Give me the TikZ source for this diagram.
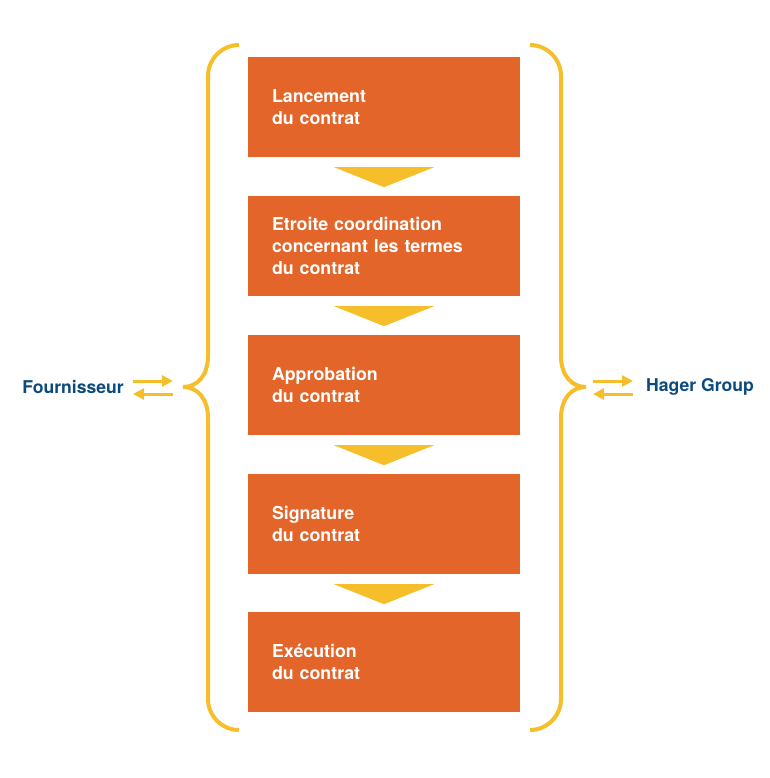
\documentclass[tikz,border=0pt]{standalone}
\usepackage{fontspec}
\setmainfont{TeX Gyre Heros}
\usetikzlibrary{arrows.meta,calc}
\definecolor{hagerorange}{HTML}{E3652A}
\definecolor{hageryellow}{HTML}{F6BE2A}
\definecolor{hagerblue}{HTML}{0B4A7F}
\tikzset{
  stepbox/.style={fill=hagerorange,text=white,minimum height=100pt,inner xsep=24pt,inner ysep=0pt,
    text width=224pt,align=left,font=\fontsize{17.8}{22}\selectfont\bfseries},
  party/.style={text=hagerblue,inner sep=0pt,font=\fontsize{17.6}{20}\selectfont\bfseries},
  brace/.style={draw=hageryellow,line width=4pt},
  swap/.style={draw=hageryellow,line width=3pt,-{Triangle[length=11pt,width=11pt]}}
}
\begin{document}
\begin{tikzpicture}[x=1pt,y=-1pt]
\useasboundingbox (0,0) rectangle (769,778);
% the five steps
\node[stepbox] (s1) at (384,107) {Lancement\\du contrat};
\node[stepbox] (s2) at (384,246) {Etroite coordination\\concernant les termes\\du contrat};
\node[stepbox] (s3) at (384,385) {Approbation\\du contrat};
\node[stepbox] (s4) at (384,524) {Signature\\du contrat};
\node[stepbox] (s5) at (384,662) {Exécution\\du contrat};
\foreach \i in {1,2,3,4}
  \fill[hageryellow] ($(s\i.south)+(-50,10)$) -- ($(s\i.south)+(50,10)$) -- ($(s\i.south)+(0,30)$) -- cycle;

% braces
\draw[brace] (239,45) .. controls (222,45) and (208,59) .. (208,76) -- (208,356)
  .. controls (208,376) and (197,387) .. (183,387)
  .. controls (197,387) and (208,398) .. (208,418) -- (208,699)
  .. controls (208,716) and (222,730) .. (239,730);
\begin{scope}[xshift=769pt,xscale=-1]
\draw[brace] (239,45) .. controls (222,45) and (208,59) .. (208,76) -- (208,356)
  .. controls (208,376) and (197,387) .. (183,387)
  .. controls (197,387) and (208,398) .. (208,418) -- (208,699)
  .. controls (208,716) and (222,730) .. (239,730);
\end{scope}

% the two parties
\node[party,anchor=east] (four) at (124,387) {Fournisseur};
\node[party,anchor=west] (hager) at (646,387) {Hager Group};
\coordinate (fa) at (133,381);
\coordinate (fb) at (173,381);
\coordinate (fc) at (173,394);
\coordinate (fd) at (133,394);
\draw[swap] (fa) -- (fb);
\draw[swap] (fc) -- (fd);
\coordinate (ha) at (593,381);
\coordinate (hb) at (633,381);
\coordinate (hc) at (633,394);
\coordinate (hd) at (593,394);
\draw[swap] (ha) -- (hb);
\draw[swap] (hc) -- (hd);
\end{tikzpicture}
\end{document}
